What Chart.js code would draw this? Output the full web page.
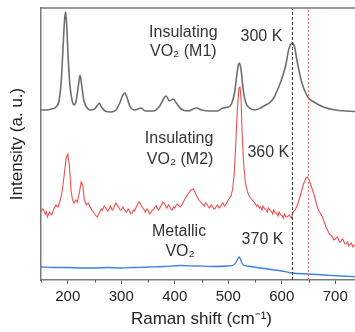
<!DOCTYPE html>
<html lang="en">
<head>
  <meta charset="UTF-8">
  <title>Raman VO2</title>
  <style>
    body {
      margin: 0;
      background: #fff;
      overflow: hidden;
    }
    #wrap {
      width: 362px;
      height: 332px;
      position: relative;
    }
  </style>
  <script src="https://cdn.jsdelivr.net/npm/chart.js"></script>
</head>
<body>

  <div id="wrap"><canvas id="raman"></canvas></div>

  <script>
    // Raman shift (cm-1) and stacked intensity (a. u.)
    const m1Shift = [150,160,170,178,184,188,191,194,196,198,201,204,208,212,216,220,223,226,230,235,242,250,256,259,263,270,280,290,298,303,307,311,316,325,337,345,360,372,380,384,390,397,403,412,425,440,450,465,480,490,500,506,512,516,519,521,524,528,533,540,550,560,570,579,586,592,598,604,608,612,616,620,624,629,634,639,644,650,660,678,700,720,750];
    const m1Int   = [170,170,171,173,180,200,230,260,268,255,220,195,180,175,180,195,205,195,180,173,170,171,175,177,173,169,168,170,178,185,187,182,174,170,172,169,169,174,182,184,179,181,177,171,169,172,170,169,169,172,173,176,188,205,215,217,210,190,177,172,170,172,175,178,183,190,198,208,216,228,235,237,233,218,205,195,188,182,178,173,170,169,168];

    const m2Shift = [150,153,155,158,160,162,166,168,170,174,178,182,186,190,194,197,200,203,206,209,212,215,218,222,225,228,231,235,238,240,243,245,248,250,253,255,258,260,263,265,268,270,273,275,278,280,283,285,288,290,293,295,298,300,303,305,308,310,313,315,318,320,323,325,328,330,333,335,338,340,343,345,348,350,353,355,358,360,363,365,368,370,373,375,378,380,383,385,388,390,393,395,398,400,403,405,408,410,413,415,420,425,430,435,440,445,450,453,455,458,460,463,465,468,470,473,475,478,480,483,485,488,490,493,495,498,500,505,508,511,514,517,520,522,524,526,529,532,536,540,545,548,550,553,555,558,560,563,565,568,570,573,575,578,580,583,585,588,590,593,595,598,600,603,605,608,610,614,618,621,625,630,635,640,645,648,651,655,660,667,672,676,682,688,691,694,697,700,703,705,708,710,713,715,718,720,723,725,728,730,733,735,738,740,750];
    const m2Int   = [68,71,70,66,68,63,68,66,65,71,75,73,80,90,108,122,126,115,90,80,77,80,78,88,98,95,80,75,77,75,72,70,68,66,64,63,66,68,71,70,74,73,70,69,72,74,70,71,75,77,74,73,70,70,73,71,69,68,71,70,66,67,70,69,73,75,78,77,74,72,70,68,71,70,66,67,70,70,73,74,71,70,73,75,78,77,74,72,75,74,71,70,73,72,75,76,74,73,75,77,82,86,90,91,85,80,77,75,74,77,76,73,72,75,74,71,71,74,75,72,73,76,77,74,75,78,80,84,90,105,135,170,192,193,180,145,115,97,88,83,80,78,77,74,75,72,73,70,74,71,71,68,72,70,69,66,70,67,67,64,68,65,65,62,66,63,63,65,62,68,70,76,85,95,102,103,100,94,86,72,67,63,54,47,45,44,40,41,43,42,38,38,41,40,36,36,38,34,36,37,33,34,36,35,35];

    const metShift = [150,175,200,225,250,275,300,325,350,380,410,440,470,500,510,515,519,521,524,528,535,560,580,600,620,650,680,710,750];
    const metInt   = [13,12.5,12.5,12,12,12.5,12,12.5,13,13.5,14.5,14,13.5,14,15,18,22,23,19,15,14,12,10.5,9,7,6,5,4,3];

    const dashShift = [620, 620];
    const dotShift = [650, 650];
    const lineInt = [0, 272];

    const xTicks = [200, 300, 400, 500, 600, 700];
    const xMinorTicks = [150, 250, 350, 450, 550, 650, 750];

    const labels = [
      { text: 'Insulating', x: 416, y: 247 },
      { text: 'VO\u2082 (M1)', x: 416, y: 228 },
      { text: '300 K', x: 562, y: 243 },
      { text: 'Insulating', x: 408, y: 141 },
      { text: 'VO\u2082 (M2)', x: 410, y: 120 },
      { text: '360 K', x: 575, y: 127 },
      { text: 'Metallic', x: 408, y: 48 },
      { text: 'VO\u2082', x: 410, y: 28 },
      { text: '370 K', x: 564, y: 40 }
    ];

    function pts(xs, ys) {
      return xs.map((x, i) => ({ x: x, y: ys[i] }));
    }

    const fontFam = '"Liberation Sans", Arial, sans-serif';

    // text next to the curves, short minor ticks, top frame line
    const extras = {
      id: 'extras',
      afterDraw(chart) {
        const { ctx, chartArea, scales } = chart;
        ctx.save();
        ctx.strokeStyle = '#7a7a7a';
        ctx.lineWidth = 1.5;
        ctx.beginPath();
        ctx.moveTo(chartArea.left, chartArea.top);
        ctx.lineTo(chartArea.right, chartArea.top);
        ctx.stroke();

        ctx.strokeStyle = '#555';
        ctx.lineWidth = 1;
        ctx.beginPath();
        xMinorTicks.forEach(v => {
          const px = Math.round(scales.x.getPixelForValue(v)) + 0.5;
          ctx.moveTo(px, chartArea.bottom);
          ctx.lineTo(px, chartArea.bottom + 2.5);
        });
        ctx.stroke();

        ctx.fillStyle = '#333';
        ctx.font = '16px ' + fontFam;
        ctx.textAlign = 'center';
        ctx.textBaseline = 'middle';
        labels.forEach(l => {
          ctx.fillText(l.text, scales.x.getPixelForValue(l.x), scales.y.getPixelForValue(l.y));
        });
        ctx.restore();
      }
    };

    new Chart(document.getElementById('raman'), {
      type: 'line',
      data: {
        datasets: [
          { data: pts(dashShift, lineInt), borderColor: '#333', borderWidth: 1, borderDash: [3, 2] },
          { data: pts(dotShift, lineInt), borderColor: '#ff7070', borderWidth: 1, borderDash: [2, 2] },
          { data: pts(metShift, metInt), borderColor: '#3d80ea', borderWidth: 1.3, cubicInterpolationMode: 'monotone' },
          { data: pts(m2Shift, m2Int), borderColor: '#f24f4f', borderWidth: 1.1 },
          { data: pts(m1Shift, m1Int), borderColor: '#6e6e6e', borderWidth: 1.6, cubicInterpolationMode: 'monotone' }
        ]
      },
      options: {
        responsive: true,
        maintainAspectRatio: false,
        devicePixelRatio: 1,
        animation: false,
        layout: { padding: { top: 8, right: 0, left: 0, bottom: 0 } },
        elements: { point: { radius: 0 } },
        plugins: { legend: { display: false }, tooltip: { enabled: false } },
        scales: {
          x: {
            type: 'linear',
            min: 150,
            max: 750,
            afterFit(s) { s.height = 52; },
            afterBuildTicks(s) {
              s.ticks = xTicks.map(v => ({ value: v }));
            },
            ticks: {
              autoSkip: false,
              maxRotation: 0,
              padding: 4,
              color: '#222',
              font: { family: fontFam, size: 15 }
            },
            grid: { drawOnChartArea: false, drawTicks: true, tickLength: 4, color: '#555' },
            border: { color: '#7a7a7a', width: 1.5 },
            title: {
              display: true,
              text: 'Raman shift (cm\u207B\u00B9)',
              color: '#222',
              font: { family: fontFam, size: 17 },
              padding: { top: 0, bottom: 2 }
            }
          },
          y: {
            min: 0,
            max: 272,
            afterFit(s) { s.width = 41; },
            ticks: { display: false },
            grid: { display: false },
            border: { color: '#7a7a7a', width: 1.5 },
            title: {
              display: true,
              text: 'Intensity (a. u.)',
              color: '#222',
              font: { family: fontFam, size: 17 },
              padding: { top: 7, bottom: 0 }
            }
          }
        }
      },
      plugins: [extras]
    });
  </script>

</body>
</html>
